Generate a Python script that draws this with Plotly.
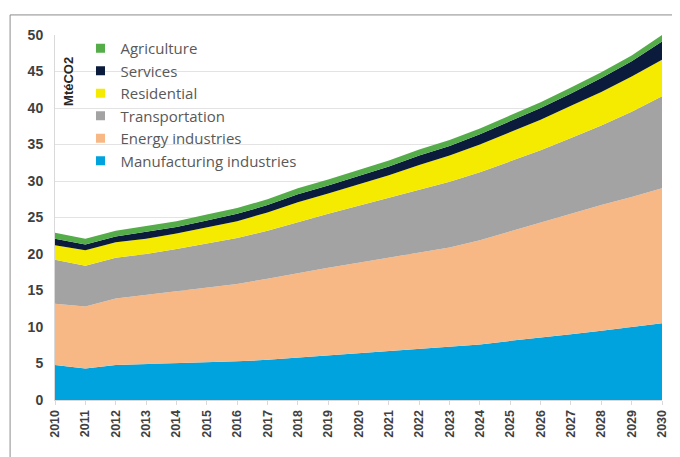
import plotly.graph_objects as go

years = list(range(2010, 2031))

manufacturing = [4.8, 4.3, 4.8, 4.9, 5.0, 5.2, 5.3, 5.5, 5.8, 6.1, 6.4, 6.6, 6.9, 7.2, 7.6, 8.1, 8.5, 9.0, 9.5, 10.0, 10.5]
energy = [8.4, 8.5, 9.1, 9.5, 9.8, 10.1, 10.6, 11.1, 11.6, 12.0, 12.4, 12.9, 13.4, 13.7, 14.3, 15.0, 15.8, 16.6, 17.2, 17.8, 18.5]
transportation = [6.0, 5.6, 5.6, 5.6, 5.9, 6.1, 6.3, 6.6, 7.0, 7.4, 7.8, 8.2, 8.6, 9.0, 9.3, 9.6, 9.9, 10.3, 10.9, 11.7, 12.6]
residential = [2.0, 2.1, 2.1, 2.1, 2.1, 2.2, 2.3, 2.5, 2.7, 2.8, 2.9, 3.1, 3.3, 3.6, 3.8, 4.0, 4.2, 4.4, 4.6, 4.8, 5.0]
services = [0.9, 0.8, 0.8, 0.9, 0.9, 1.0, 1.0, 1.0, 1.1, 1.1, 1.2, 1.2, 1.3, 1.3, 1.4, 1.5, 1.6, 1.7, 1.9, 2.1, 2.5]
agriculture = [0.8, 0.8, 0.8, 0.8, 0.8, 0.8, 0.8, 0.8, 0.8, 0.8, 0.8, 0.8, 0.8, 0.8, 0.8, 0.8, 0.8, 0.8, 0.8, 0.8, 0.9]

series = [
    ("Manufacturing industries", manufacturing, "#00A3DE"),
    ("Energy industries", energy, "#F8B886"),
    ("Transportation", transportation, "#A3A3A3"),
    ("Residential", residential, "#F5EB00"),
    ("Services", services, "#0B1B3C"),
    ("Agriculture", agriculture, "#55AD4A"),
]

fig = go.Figure()

# stacked areas (no legend entries; legend uses small squares below)
for name, vals, col in series:
    fig.add_trace(go.Scatter(
        x=years, y=vals, name=name, stackgroup="one",
        mode="lines", line=dict(width=0, color=col),
        fillcolor=col, showlegend=False, hoverinfo="x+y+name"
    ))

# legend entries as small squares
for name, vals, col in series:
    fig.add_trace(go.Scatter(
        x=[None], y=[None], name=name, mode="markers",
        marker=dict(symbol="square", size=9, color=col),
        showlegend=True
    ))

# outer frame like the original picture
fig.add_shape(type="line", xref="paper", yref="paper",
              x0=-0.074, x1=-0.074, y0=1.055, y1=-0.2,
              line=dict(color="#8c8c8c", width=1))
fig.add_shape(type="line", xref="paper", yref="paper",
              x0=-0.074, x1=1.05, y0=1.055, y1=1.055,
              line=dict(color="#8c8c8c", width=1))

fig.add_annotation(text="<b>MtéCO2</b>", xref="paper", yref="paper",
                   x=0.023, y=0.874, xanchor="center", yanchor="middle",
                   textangle=-90, showarrow=False,
                   font=dict(family="Liberation Sans", size=13, color="#262626"))

# page body has an 8px margin, so the figure is a bit smaller than the window
fig.update_layout(
    width=672, height=449,
    margin=dict(l=47, r=18, t=27, b=57, autoexpand=False),
    paper_bgcolor="white", plot_bgcolor="white",
    font=dict(family="Liberation Sans", color="#404040"),
    legend=dict(
        x=0.042, y=1.008, xanchor="left", yanchor="top",
        traceorder="reversed", bgcolor="rgba(0,0,0,0)",
        font=dict(family="Open Sans", size=15, color="#595959"),
        itemwidth=30, tracegroupgap=0,
    ),
    xaxis=dict(
        range=[2010, 2030], tickmode="array", tickvals=years,
        ticktext=[f"<b>{y}</b>" for y in years], tickangle=-90,
        tickfont=dict(size=12.5, color="#404040"),
        showgrid=False, zeroline=False, automargin=False,
        ticks="outside", ticklen=4, tickcolor="#d9d9d9",
        showline=True, linecolor="#d9d9d9",
    ),
    yaxis=dict(
        range=[0, 50], tickmode="array", tickvals=list(range(0, 51, 5)),
        ticktext=[f"<b>{v}</b>" for v in range(0, 51, 5)],
        tickfont=dict(size=14, color="#404040"),
        showgrid=True, gridcolor="#e3e3e3", zeroline=False, automargin=False,
        showline=True, linecolor="#d9d9d9", ticks="", ticklabelstandoff=8,
    ),
)

fig.write_html("out.html")
